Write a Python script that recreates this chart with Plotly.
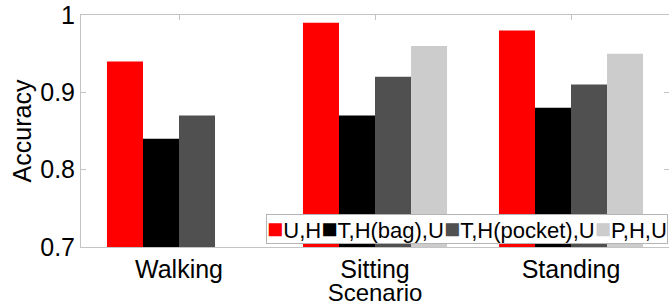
import plotly.graph_objects as go

categories = ["Walking", "Sitting", "Standing"]
series_names = ["U,H", "T,H(bag),U", "T,H(pocket),U", "P,H,U"]
series_colors = ["#ff0000", "#000000", "#505050", "#cccccc"]
values_uh = [0.94, 0.99, 0.98]
values_bag = [0.84, 0.87, 0.88]
values_pocket = [0.87, 0.92, 0.91]
values_phu = [None, 0.96, 0.95]
y_ticks = [0.7, 0.8, 0.9, 1.0]
y_tick_labels = ["0.7", "0.8", "0.9", "1"]

series_values = [values_uh, values_bag, values_pocket, values_phu]

FONT = "Liberation Sans, Arial, sans-serif"
AXIS_GRAY = "#c4c4c4"

fig = go.Figure()
for name, color, vals in zip(series_names, series_colors, series_values):
    fig.add_trace(go.Bar(
        x=categories, y=vals, name=name,
        marker=dict(color=color, line=dict(width=0)),
        showlegend=False,
    ))

# legend drawn as a single bordered text box (compact, like the original)
legend_parts = []
for name, color in zip(series_names, series_colors):
    legend_parts.append(
        f"<span style='color:{color};font-size:27px'>■</span>{name}"
    )
legend_text = "".join(legend_parts)

fig.add_annotation(
    xref="paper", yref="paper", x=1, y=0,
    xanchor="right", yanchor="bottom",
    xshift=-1, yshift=3, height=28, valign="middle",
    text=legend_text, showarrow=False,
    font=dict(family=FONT, size=22, color="black"),
    bgcolor="white", bordercolor="#b4b4b4", borderwidth=1, borderpad=0,
)

fig.update_layout(
    width=669, height=306,
    margin=dict(l=81, r=0, t=15, b=59, autoexpand=False),
    paper_bgcolor="white", plot_bgcolor="white",
    barmode="group", bargap=0.265, bargroupgap=0,
    font=dict(family=FONT, size=25, color="black"),
    showlegend=False,
)
fig.update_xaxes(
    type="category", range=[-0.5, 2.5], automargin=True,
    showline=True, linecolor=AXIS_GRAY, linewidth=1, mirror="allticks",
    ticks="inside", ticklen=5, tickcolor=AXIS_GRAY, tickwidth=1,
    showgrid=False, zeroline=False, layer="below traces",
    tickfont=dict(family=FONT, size=25, color="black"),
    title=dict(text="Scenario", font=dict(family=FONT, size=24, color="black"), standoff=5),
)
fig.update_yaxes(
    range=[0.7, 1.0], tickvals=y_ticks, ticktext=y_tick_labels, automargin=True,
    showline=True, linecolor=AXIS_GRAY, linewidth=1, mirror="allticks",
    ticks="inside", ticklen=5, tickcolor=AXIS_GRAY, tickwidth=1,
    showgrid=False, zeroline=False, layer="below traces",
    tickfont=dict(family=FONT, size=25, color="black"),
    title=dict(text="Accuracy", font=dict(family=FONT, size=25, color="black"), standoff=1),
)

# remove the browser's default 8px page margin so the figure fills the window exactly
fig.write_html("out.html", config={"displayModeBar": False},
               post_script="document.body.style.margin='0px';")
